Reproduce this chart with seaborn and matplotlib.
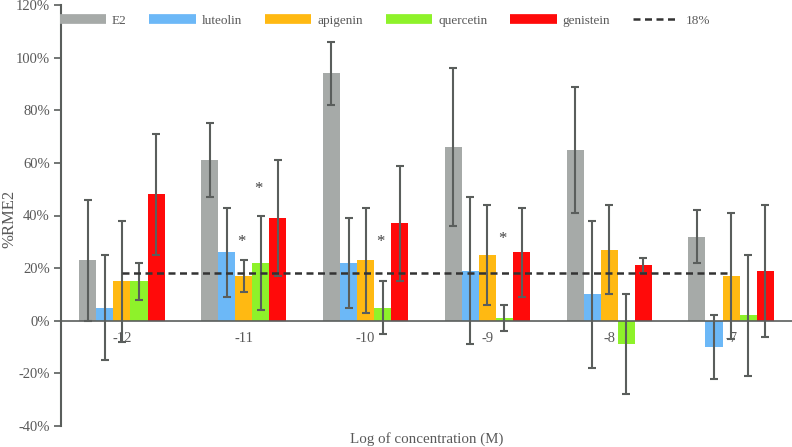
import numpy as np
import pandas as pd
import matplotlib
matplotlib.use('Agg')
import matplotlib.pyplot as plt
import seaborn as sns
from matplotlib.lines import Line2D

concentrations = ['-12', '-11', '-10', '-9', '-8', '-7']
compounds = ['E2', 'luteolin', 'apigenin', 'quercetin', 'genistein']

e2 = [23, 61, 94, 66, 65, 32]
e2_err = [23, 14, 12, 30, 24, 10]
luteolin = [5, 26, 22, 19, 10, -10]
luteolin_err = [20, 17, 17, 28, 28, 12]
apigenin = [15, 17, 23, 25, 27, 17]
apigenin_err = [23, 6, 20, 19, 17, 24]
quercetin = [15, 22, 5, 1, -9, 2]
quercetin_err = [7, 18, 10, 5, 19, 23]
genistein = [48, 39, 37, 26, 21, 19]
genistein_err = [23, 22, 22, 17, 3, 25]

threshold = 18
threshold_label = '18%'

# significance marks: (concentration, compound, height of asterisk)
star_conc = ['-11', '-11', '-10', '-9']
star_comp = ['apigenin', 'quercetin', 'quercetin', 'quercetin']
star_y = [30, 50, 30, 31]

colors = ['#a6aaa8', '#6cb8f7', '#ffb912', '#8ef22a', '#ff0a0a']
text_color = '#595959'
axis_color = '#5a5e5c'

values = [e2, luteolin, apigenin, quercetin, genistein]
errors = [e2_err, luteolin_err, apigenin_err, quercetin_err, genistein_err]

rows = []
for comp, vals, errs in zip(compounds, values, errors):
    for c, v, e in zip(concentrations, vals, errs):
        rows.append({'conc': c, 'compound': comp, 'value': v, 'err': e})
df = pd.DataFrame(rows)

sns.set_style('white')
plt.rcParams['font.family'] = ['Liberation Serif', 'DejaVu Serif']

fig = plt.figure(figsize=(7.92, 4.47), dpi=100)
ax = fig.add_axes([61 / 792, 21 / 447, 1 - 61 / 792, 421 / 447])

sns.barplot(data=df, x='conc', y='value', hue='compound', order=concentrations,
            hue_order=compounds, palette=colors, width=0.7, errorbar=None,
            linewidth=0, saturation=1, legend=False, ax=ax)

# error bars and asterisks on top of the seaborn bars
centers = {}
for comp, cont in zip(compounds, ax.containers):
    sub = df[df['compound'] == comp].set_index('conc').loc[concentrations]
    xs = [p.get_x() + p.get_width() / 2 for p in cont.patches]
    for c, x in zip(concentrations, xs):
        centers[(c, comp)] = x
    ax.errorbar(xs, sub['value'], yerr=sub['err'], fmt='none', ecolor=axis_color,
                elinewidth=1.5, capsize=3, capthick=1.5, zorder=3)

for c, comp, y in zip(star_conc, star_comp, star_y):
    ax.text(centers[(c, comp)] - 0.02, y, '*', ha='center', va='center',
            fontsize=12, color='#404040')

xpos = np.arange(len(concentrations))
ax.plot(xpos, [threshold] * len(concentrations), color='#333333', lw=1.8,
        ls=(0, (2.8, 1.8)), zorder=4)

ax.set_xlim(-0.5, len(concentrations) - 0.5)
ax.set_ylim(-40, 120)
ax.set_yticks(np.arange(-40, 121, 20))
ax.set_yticklabels([f'{v}%' for v in range(-40, 121, 20)])

for s in ['top', 'right']:
    ax.spines[s].set_visible(False)
ax.spines['left'].set_color(axis_color)
ax.spines['left'].set_linewidth(1.5)
ax.spines['bottom'].set_position(('data', 0))
ax.spines['bottom'].set_color(axis_color)
ax.spines['bottom'].set_linewidth(1.2)
ax.spines['bottom'].set_zorder(5)

ax.tick_params(axis='y', direction='out', length=5, width=1.2, color=axis_color,
               labelsize=10.5, labelcolor=text_color, left=True, pad=3)
ax.tick_params(axis='x', length=0, labelsize=10.5, labelcolor=text_color, pad=8)

ax.set_xlabel('')
ax.set_ylabel('')
fig.text(9 / 792, 1 - 219 / 447, '%RME2', rotation=90, ha='center', va='center',
         fontsize=12, color=text_color)
fig.text(427 / 792, 8 / 447, 'Log of concentration (M)', ha='center',
         va='center', fontsize=10.8, color=text_color)

handles = [Line2D([0], [0], color=col, lw=7, solid_capstyle='butt') for col in colors]
handles.append(Line2D([0], [0], color='#333333', lw=1.8, ls=(0, (2.8, 1.8))))
labels = compounds + [threshold_label]
leg = ax.legend(handles, labels, loc='center left', bbox_to_anchor=(-0.002, (426 - 21) / 421),
                ncol=6, frameon=False, fontsize=9.5, handlelength=3.5,
                handletextpad=0.45, columnspacing=1.75, borderpad=0, borderaxespad=0)
for t in leg.get_texts():
    t.set_color(text_color)

fig.savefig('out.png', dpi=100)
